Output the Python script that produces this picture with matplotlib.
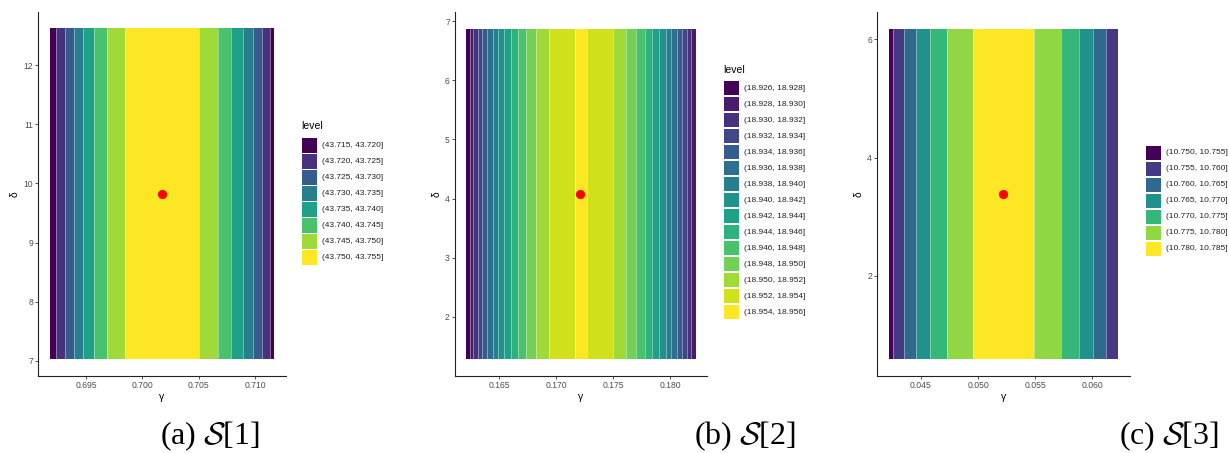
import numpy as np
import matplotlib
matplotlib.use("Agg")
import matplotlib.pyplot as plt
from matplotlib.colors import ListedColormap
from matplotlib.patches import Rectangle

W, H = 1229, 453

# ---- data ----
# panel (a): S[1]
gamma_edges_1 = [0.69175, 0.69234, 0.69308, 0.69388, 0.69470, 0.69571, 0.69686, 0.69849,
                 0.70503, 0.70669, 0.70790, 0.70891, 0.70979, 0.71062, 0.71133, 0.71172]
band_level_1 = [0, 1, 2, 3, 4, 5, 6, 7, 6, 5, 4, 3, 2, 1, 0]
delta_range_1 = [7.03, 12.624]
opt_1 = (0.70172, 9.83)
breaks_1 = [43.715, 43.720, 43.725, 43.730, 43.735, 43.740, 43.745, 43.750, 43.755]
xticks_1 = [0.695, 0.700, 0.705, 0.710]
yticks_1 = [7, 8, 9, 10, 11, 12]

# panel (b): S[2]
gamma_edges_2 = [0.16215, 0.16244, 0.16273, 0.16314, 0.16351, 0.16395, 0.16447, 0.16491,
                 0.16547, 0.16604, 0.16669, 0.16738, 0.16822, 0.16936, 0.17162,
                 0.17273, 0.17494, 0.17611, 0.17698, 0.17776, 0.17840, 0.17901,
                 0.17959, 0.18006, 0.18055, 0.18104, 0.18143, 0.18183, 0.18221]
band_level_2 = list(range(0, 15)) + list(range(13, 0, -1))
delta_range_2 = [1.285, 6.87]
opt_2 = (0.17212, 4.085)
breaks_2 = [18.926, 18.928, 18.930, 18.932, 18.934, 18.936, 18.938, 18.940,
            18.942, 18.944, 18.946, 18.948, 18.950, 18.952, 18.954, 18.956]
xticks_2 = [0.165, 0.170, 0.175, 0.180]
yticks_2 = [2, 3, 4, 5, 6, 7]

# panel (c): S[3]
gamma_edges_3 = [0.04219, 0.04257, 0.04350, 0.04454, 0.04576, 0.04730, 0.04959,
                 0.05488, 0.05723, 0.05879, 0.06007, 0.06120, 0.06225]
band_level_3 = [0, 1, 2, 3, 4, 5, 6, 5, 4, 3, 2, 1]
delta_range_3 = [0.594, 6.174]
opt_3 = (0.05221, 3.392)
breaks_3 = [10.750, 10.755, 10.760, 10.765, 10.770, 10.775, 10.780, 10.785]
xticks_3 = [0.045, 0.050, 0.055, 0.060]
yticks_3 = [2, 4, 6]

captions = [r"(a) $\mathcal{S}$[1]", r"(b) $\mathcal{S}$[2]", r"(c) $\mathcal{S}$[3]"]

# ---- layout (pixels) ----
panels = [
    dict(edges=gamma_edges_1, lev=band_level_1, yr=delta_range_1, opt=opt_1, br=breaks_1,
         xt=xticks_1, yt=yticks_1, box=(38.3, 11.7, 285.7, 375.7), title="level",
         leg=(302, 125.7, 138.3), cap=210),
    dict(edges=gamma_edges_2, lev=band_level_2, yr=delta_range_2, opt=opt_2, br=breaks_2,
         xt=xticks_2, yt=yticks_2, box=(455, 12.3, 707, 375.7), title="level",
         leg=(724, 70, 80.7), cap=745),
    dict(edges=gamma_edges_3, lev=band_level_3, yr=delta_range_3, opt=opt_3, br=breaks_3,
         xt=xticks_3, yt=yticks_3, box=(877.3, 12.3, 1129.7, 375.7), title=None,
         leg=(1146, None, 145.7), cap=1169),
]

plt.rcParams["font.family"] = ["Liberation Sans", "DejaVu Sans"]
plt.rcParams["mathtext.fontset"] = "cm"

fig = plt.figure(figsize=(W / 100, H / 100), dpi=100)
fig.patch.set_facecolor("white")

# legend overlay in pixel coordinates
lay = fig.add_axes([0, 0, 1, 1], facecolor="none")
lay.set_xlim(0, W)
lay.set_ylim(H, 0)
lay.axis("off")

for k, p in enumerate(panels):
    l, t, r, b = p["box"]
    ax = fig.add_axes([l / W, 1 - b / H, (r - l) / W, (b - t) / H])
    n = len(p["br"]) - 1
    cols = plt.cm.viridis(np.linspace(0, 1, n))
    cmap = ListedColormap(cols)
    edges = np.array(p["edges"])
    lev = np.array(p["lev"])[None, :]
    ax.pcolormesh(edges, p["yr"], lev, cmap=cmap, vmin=-0.5, vmax=n - 0.5,
                  shading="flat", antialiased=True)
    ax.vlines(edges[1:-1], p["yr"][0], p["yr"][1], color="white", lw=0.6, alpha=0.45)
    ax.plot([p["opt"][0]], [p["opt"][1]], "o", color="red", ms=5.6, mec="red")

    xr = edges[-1] - edges[0]
    yr = p["yr"][1] - p["yr"][0]
    ax.set_xlim(edges[0] - 0.05 * xr, edges[-1] + 0.05 * xr)
    ax.set_ylim(p["yr"][0] - 0.05 * yr, p["yr"][1] + 0.05 * yr)
    ax.set_xticks(p["xt"])
    ax.set_xticklabels([f"{v:.3f}" for v in p["xt"]])
    ax.set_yticks(p["yt"])
    for s in ["top", "right"]:
        ax.spines[s].set_visible(False)
    for s in ["left", "bottom"]:
        ax.spines[s].set_color("#222222")
        ax.spines[s].set_linewidth(0.8)
    ax.tick_params(length=2.2, width=0.6, color="#333333", labelcolor="#4D4D4D",
                   labelsize=6.2, pad=1.5)
    ax.set_xlabel("γ", fontsize=7.5, color="black", labelpad=1.5)
    ax.set_ylabel("δ", fontsize=7.5, color="black", labelpad=2.5)

    # legend
    kx, ty, ky = p["leg"]
    if p["title"]:
        lay.text(kx - 1, ty, p["title"], fontsize=7.5, va="center", ha="left")
    step = 16.0
    for i in range(n):
        y0 = ky + i * step
        lay.add_patch(Rectangle((kx, y0), 14.7, step - 1.4, facecolor=cols[i],
                                edgecolor="none"))
        lab = f"({p['br'][i]:.3f}, {p['br'][i + 1]:.3f}]"
        lay.text(kx + 20.5, y0 + (step - 1.4) / 2, lab, fontsize=6, color="#222222",
                 va="center", ha="left")

    fig.text(p["cap"] / W, 1 - 436 / H, captions[k],
             fontsize=23, family="Liberation Serif", ha="center", va="center")

fig.savefig("out.png", dpi=100)
